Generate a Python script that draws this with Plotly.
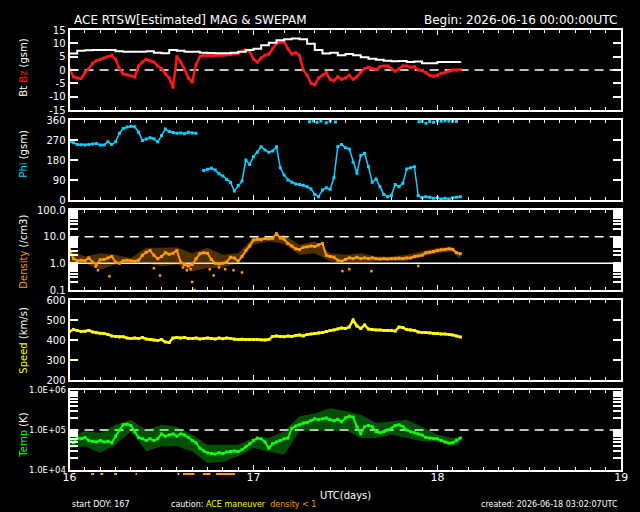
import plotly.graph_objects as go

# ---------------- data (hours after 2026-06-16 00:00 UTC) ----------------
bt_hourly = [6.2, 7.2, 7.4, 7.5, 7.5, 7.5, 7.0, 6.8, 6.8, 6.8, 7.0, 6.5, 6.3, 7.5, 7.2, 6.8, 6.8, 6.5,
             6.4, 6.3, 6.3, 6.5, 6.8, 7.5, 8.0, 9.3, 10.2, 11.2, 11.5, 11.8, 11.5, 9.8, 7.5, 6.2, 6.5,
             5.5, 6.0, 5.5, 4.8, 4.2, 3.8, 3.5, 3.3, 3.4, 3.0, 3.2, 2.5, 2.5, 3.0, 3.0, 3.0, 3.2]

bz_half = [0.5, -2.5, -3.0, -3.2, -1.0, 0.5, 2.5, 3.5, 4.0, 4.5, 5.0, 5.5, 4.0, 0.5, -1.5, -1.8, -2.2,
           -2.6, 1.5, 3.0, 4.0, 3.5, 3.0, 1.5, 0.5, -1.5, -3.0, -6.5, 5.0, 3.0, 0.3, -3.0, -4.5, 2.0,
           5.0, 5.5, 5.4, 5.3, 5.4, 5.5, 5.5, 5.6, 5.8, 6.0, 6.3,
           7.0, 7.5, 7.0, 4.0, 3.0, 4.5, 5.5, 6.0, 8.0, 10.0, 10.5, 10.5, 8.0, 6.0, 6.5, 5.5, 0.0,
           -2.0, -5.0, -5.5, -3.0, -2.0, -1.0, -3.5, -4.0, -2.5, -3.5, -3.0, -2.0, -3.5, -2.5, -1.0,
           0.5, 1.0, 0.5, 0.2, 1.2, 1.5, 1.5, 0.5, -0.5, 0.5, 1.5, 1.5, 1.0, 1.2, 0.0, -0.2, -1.0,
           -2.0, -2.3, -2.0, -1.2, -1.0, -0.5, 0.0, 0.0, 0.2]

phi_half = [262, 258, 250, 249, 248, 250, 252, 254, 248, 247, 262, 250, 262, 300, 322, 328, 332, 330,
            305, 268, 275, 280, 276, 262, 290, 320, 308, 304, 300, 302, 298, 305, 302, 300,
            None,
            133, 138, 143, 135, 118, 108, 92, 80, 40, 65, 85, 180, 160, 195, 215, 240, 225, 215, 220,
            240, 145, 112, 90, 80, 72, 70, 66, 60, 50, 25, 15, 45, 55, 48, 100, 240, 250, 235, 230,
            170, 120, 200, 210, 150, 80, 95, 60, 25, 15, 20, 70, 60, 75, 140, 145, 150, 20, 10, 15,
            12, 8, 10, 5, 8, 5, 10, 12, 15]
phi_top_hours = [31.3, 31.8, 32.3, 32.8, 33.5, 34.0, 34.7, 45.6, 46.0, 46.5, 47.0, 47.5, 48.0,
                 48.5, 49.0, 49.5, 50.0, 50.5]
phi_top_vals = [352, 357, 350, 355, 348, 356, 351, 352, 356, 345, 353, 350, 356, 354, 357, 355,
                356, 353]

dens_half = [3.3, 1.5, 1.25, 1.3, 1.25, 1.6, 1.1, 0.9, 1.35, 1.4, 1.6, 1.8, 1.1, 1.0, 1.25, 1.3, 1.25,
             1.2, 1.3, 2.0, 2.6, 3.0, 2.0, 1.5, 1.8, 2.5, 2.2, 2.4, 3.0, 1.1, 0.9, 0.8, 0.9, 1.5, 2.3,
             2.5, 2.4, 1.4, 1.0, 0.95, 1.0, 1.1, 1.7, 1.6, 1.2, 1.8, 3.0, 4.5, 7.5, 8.0, 7.8, 8.5,
             8.4, 8.8, 13.0, 9.0, 8.0, 5.5, 4.5, 3.5, 3.3, 4.0, 4.2, 4.5, 4.3, 5.0, 5.5, 2.0, 1.8,
             1.7, 1.3, 1.2, 1.4, 1.6, 1.5, 1.7, 1.5, 1.6, 1.5, 1.6, 1.5, 1.45, 1.5, 1.45, 1.5, 1.5,
             1.55, 1.5, 1.6, 1.6, 1.8, 1.9, 2.0, 2.5, 2.6, 2.8, 3.0, 3.2, 3.3, 3.5, 3.3, 2.5, 2.3]
dens_low_hours = [3.4, 3.7, 5.2, 11.0, 11.8, 14.8, 15.3, 15.8, 16.0, 16.3, 18.3, 18.8, 19.5, 20.3,
                  21.4, 22.5, 35.6, 36.5, 39.4, 45.5]
dens_low_vals = [0.75, 0.55, 0.33, 0.65, 0.35, 0.7, 0.55, 0.6, 0.2, 0.1, 0.6, 0.35, 0.7, 0.6, 0.55,
                 0.45, 0.51, 0.6, 0.51, 0.8]
dens_env_hours = [0, 2, 4, 6, 8, 10, 12, 14, 16, 18, 20, 22, 24, 26, 28, 30, 32, 34, 36, 38, 40, 42,
                  44, 46, 48, 50, 51]
dens_hi = [3.3, 1.8, 2.4, 2.1, 1.6, 3.8, 3.8, 4.0, 2.4, 3.8, 2.1, 2.4, 9.5, 9.5, 11.9, 5.0, 6.7, 2.4,
           2.1, 2.4, 1.8, 1.8, 2.1, 2.8, 3.8, 4.3, 2.1]
dens_lo = [1.0, 1.0, 0.58, 0.9, 1.0, 1.0, 0.77, 0.9, 0.5, 0.67, 0.7, 1.0, 5.0, 6.7, 5.3, 2.1, 2.4, 1.2,
           1.0, 1.0, 1.2, 1.26, 1.2, 1.8, 2.4, 2.8, 1.4]

speed_half = [443, 452, 448, 443, 444, 448, 440, 436, 434, 432, 428, 420, 418, 415, 416, 410, 408,
              410, 407, 412, 405, 402, 400, 398, 402, 390, 388, 410, 413, 410, 412, 408, 408, 410,
              405, 407, 410, 408, 405, 410, 406, 410, 408, 404, 402, 404, 403, 402, 402, 402, 401,
              400, 402, 418, 420, 418, 416, 420, 418, 422, 425, 420, 428, 430, 432, 435, 438, 442,
              447, 450, 455, 460, 458, 465, 500, 470, 458, 475, 455, 452, 450, 450, 448, 448, 447,
              445, 465, 462, 452, 450, 448, 440, 438, 437, 436, 432, 432, 430, 430, 428, 425, 420,
              415]

temp_half = [5.5e4, 4.8e4, 6.3e4, 6.0e4, 6.5e4, 5.5e4, 5.2e4, 5.0e4, 5.5e4, 5.0e4, 5.2e4, 4.8e4,
             7.0e4, 1.0e5, 1.35e5, 1.4e5, 1.3e5, 9.0e4, 6.5e4, 6.0e4, 5.5e4, 6.0e4, 5.5e4, 6.0e4,
             8.0e4, 7.0e4, 7.5e4, 8.0e4, 7.0e4, 8.0e4, 7.5e4, 6.5e4, 5.5e4, 4.8e4, 3.5e4, 3.0e4,
             2.7e4, 2.6e4, 2.5e4, 2.7e4, 2.6e4, 2.8e4, 2.9e4, 3.0e4, 2.9e4, 3.2e4, 3.8e4, 4.5e4,
             5.5e4, 6.3e4, 6.0e4, 5.0e4, 3.5e4, 4.5e4, 5.0e4, 5.5e4, 6.0e4, 6.3e4, 1.1e5, 1.25e5,
             1.35e5, 1.5e5, 1.55e5, 1.7e5, 1.9e5, 1.8e5, 1.9e5, 2.0e5, 1.8e5, 1.7e5, 1.85e5, 1.6e5,
             2.0e5, 2.2e5, 2.1e5, 1.2e5, 8.0e4, 1.2e5, 1.3e5, 1.2e5, 9.0e4, 8.5e4, 9.0e4, 1.0e5,
             1.1e5, 1.3e5, 1.35e5, 1.2e5, 1.0e5, 9.0e4, 8.5e4, 8.0e4, 7.5e4, 6.5e4, 6.3e4, 6.0e4,
             6.0e4, 5.5e4, 5.0e4, 4.7e4, 4.8e4, 5.5e4, 6.3e4]
temp_env_hours = [0, 2, 4, 6, 8, 10, 12, 14, 16, 18, 20, 22, 24, 26, 28, 30, 32, 34, 36, 38, 40, 42,
                  44, 46, 48, 50, 51]
temp_hi = [6.9e4, 9.3e4, 8.5e4, 1.35e5, 1.8e5, 1.0e5, 1.35e5, 1.2e5, 7.6e4, 4.3e4, 4.3e4, 4.3e4,
           6.3e4, 6.3e4, 9.3e4, 2.2e5, 2.6e5, 3.5e5, 3.0e5, 2.4e5, 1.5e5, 1.65e5, 1.8e5, 1.2e5,
           7.6e4, 6.3e4, 6.9e4]
temp_lo = [3.5e4, 3.9e4, 2.7e4, 4.3e4, 9.3e4, 2.9e4, 3.9e4, 3.9e4, 2.9e4, 1.5e4, 1.6e4, 2.2e4,
           3.5e4, 2.9e4, 2.4e4, 9.3e4, 1.0e5, 9.3e4, 1.0e5, 6.3e4, 6.3e4, 7.6e4, 6.3e4, 5.2e4,
           5.2e4, 3.9e4, 4.7e4]

# caution flags below the plot (start hour, end hour)
flag_density_low = [(2.8, 3.2), (4.0, 4.4), (5.8, 6.2), (8.6, 8.8), (14.8, 16.3), (17.4, 18.4),
                    (19.1, 21.6)]
flag_maneuver = [(14.1, 14.3)]

day_ticks = [16, 17, 18, 19]
START_DAY = 16

# ---------------- helpers ----------------
W, H = 640, 512
XL, XR = 64, 628
panels = [(30, 110), (120, 200), (210, 290), (300, 380), (390, 470)]
FONT = "DejaVu Sans"
WHITE = "#FFFFFF"
RED = "#FF1A1A"
CYAN = "#10D0FF"
ORANGE = "#FF9A00"
YELLOW = "#FFFF00"
GREEN = "#10FF10"


def days(hours):
    return [START_DAY + h / 24.0 for h in hours]


def half_grid(vals):
    return days([i * 0.5 for i in range(len(vals))])


def hour_grid(vals):
    return days([float(i) for i in range(len(vals))])


def py(y):
    return 1 - y / H


fig = go.Figure()


def add(x, y, i, color, mode="lines", width=2, size=3, **kw):
    fig.add_trace(go.Scatter(x=x, y=y, xaxis=f"x{i}", yaxis=f"y{i}", mode=mode,
                             line=dict(color=color, width=width),
                             marker=dict(color=color, size=size, symbol="square", line=dict(width=0)),
                             hoverinfo="skip", showlegend=False, **kw))


def band(hours, lo, hi, i, rgba):
    fig.add_trace(go.Scatter(x=days(hours), y=lo, xaxis=f"x{i}", yaxis=f"y{i}", mode="lines",
                             line=dict(width=0), hoverinfo="skip", showlegend=False))
    fig.add_trace(go.Scatter(x=days(hours), y=hi, xaxis=f"x{i}", yaxis=f"y{i}", mode="lines",
                             line=dict(width=0), fill="tonexty", fillcolor=rgba,
                             hoverinfo="skip", showlegend=False))


def hline(i, val, dash):
    add([16, 19], [val, val], i, WHITE, width=1.5, **({"line_dash": dash} if dash else {}))


# reference lines
hline(1, 0, "9px,6px")
hline(3, 10, "9px,6px")
hline(3, 1, None)
hline(5, 1e5, "9px,6px")

# panel 1: Bt and Bz
add(half_grid(bz_half), bz_half, 1, RED, mode="lines+markers", width=2.5, size=3)
add(hour_grid(bt_hourly), bt_hourly, 1, WHITE, width=2, line_shape="hv")

# panel 2: Phi
add(half_grid(phi_half), phi_half, 2, CYAN, mode="lines+markers", width=1.5, size=3)
add(days(phi_top_hours), phi_top_vals, 2, CYAN, mode="markers", size=3)

# panel 3: density
band(dens_env_hours, dens_lo, dens_hi, 3, "rgba(255,154,0,0.30)")
add(half_grid(dens_half), dens_half, 3, ORANGE, mode="lines+markers", width=2, size=3)
add(days(dens_low_hours), dens_low_vals, 3, ORANGE, mode="markers", size=2.5)

# panel 4: speed
add(half_grid(speed_half), speed_half, 4, YELLOW, mode="lines+markers", width=2.5, size=3)

# panel 5: temperature
band(temp_env_hours, temp_lo, temp_hi, 5, "rgba(20,255,20,0.30)")
add(half_grid(temp_half), temp_half, 5, GREEN, mode="lines+markers", width=2, size=3)

# ---------------- axes ----------------
minor_x = dict(dtick=1 / 12, tick0=16, ticks="inside", ticklen=3, tickcolor=WHITE, tickwidth=1)
layout = dict(width=W, height=H, margin=dict(l=0, r=0, t=0, b=0),
              paper_bgcolor="black", plot_bgcolor="black", showlegend=False,
              font=dict(family=FONT, color=WHITE, size=10))


def log_ticks(d0, d1, fmt):
    vals, text = [], []
    for d in range(d0, d1 + 1):
        for m in range(1, 10):
            if d == d1 and m > 1:
                break
            vals.append(m * 10 ** d)
            text.append(fmt(d) if m == 1 else " ")
    return vals, text


dens_tv, dens_tt = log_ticks(-1, 2, lambda d: f"{10.0 ** d:.1f}")
temp_tv, temp_tt = log_ticks(4, 6, lambda d: f"1.0E+0{d}")

yspecs = [
    dict(range=[-15, 15], tickvals=[-15, -10, -5, 0, 5, 10, 15],
         ticktext=["-15", "-10", "-5", "0", "5", "10", "15"]),
    dict(range=[0, 360], tickvals=[0, 90, 180, 270, 360],
         ticktext=["0", "90", "180", "270", "360"]),
    dict(type="log", range=[-1, 2], tickvals=dens_tv, ticktext=dens_tt),
    dict(range=[200, 600], tickvals=[200, 300, 400, 500, 600],
         ticktext=["200", "300", "400", "500", "600"]),
    dict(type="log", range=[4, 6], tickvals=temp_tv, ticktext=temp_tt,
         tickfont=dict(size=8.5, color=WHITE)),
]

for i, ((top, bot), ys) in enumerate(zip(panels, yspecs), start=1):
    sfx = "" if i == 1 else str(i)
    layout["xaxis" + sfx] = dict(domain=[XL / W, XR / W], range=[16, 19], anchor="y" + sfx,
                                 showline=True, linecolor=WHITE, linewidth=2, mirror="allticks",
                                 ticks="inside", ticklen=5, tickcolor=WHITE, tickwidth=1,
                                 tickvals=day_ticks, ticktext=[str(d) for d in day_ticks],
                                 showticklabels=(i == 5), tickfont=dict(size=11, color=WHITE),
                                 tickmode="array", ticklabelstandoff=-4,
                                 minor=minor_x, showgrid=False, zeroline=False, fixedrange=True)
    yd = dict(domain=[(H - bot) / H, (H - top) / H], anchor="x" + sfx, showline=True,
              linecolor=WHITE, linewidth=2, mirror="allticks", ticks="inside", ticklen=8,
              tickcolor=WHITE, tickwidth=1.5, showgrid=False, zeroline=False, fixedrange=True,
              tickfont=dict(size=10, color=WHITE), tickmode="array", automargin=False)
    yd.update(ys)
    layout["yaxis" + sfx] = yd

# flags under the temperature panel
shapes = []
for a, b in flag_density_low:
    shapes.append(dict(type="line", xref="x5", yref="paper", x0=START_DAY + a / 24,
                       x1=START_DAY + b / 24, y0=py(474), y1=py(474),
                       line=dict(color=ORANGE, width=2)))
for a, b in flag_maneuver:
    shapes.append(dict(type="line", xref="x5", yref="paper", x0=START_DAY + a / 24,
                       x1=START_DAY + b / 24, y0=py(474), y1=py(474),
                       line=dict(color=YELLOW, width=2)))
layout["shapes"] = shapes


def ann(text, x, y, size=10, xanchor="left", angle=0, color=WHITE):
    return dict(text=text, x=x / W, y=py(y), xref="paper", yref="paper", showarrow=False,
                xanchor=xanchor, yanchor="middle", textangle=angle,
                font=dict(family=FONT, size=size, color=color))


anns = [
    ann("ACE RTSW[Estimated] MAG &amp; SWEPAM", 66, 20, size=12),
    ann("Begin: 2026-06-16 00:00:00UTC", 626, 20, size=12, xanchor="right"),
    ann(f"Bt <span style='color:{RED}'>Bz</span> (gsm)", 16, 68, angle=-90, xanchor="center"),
    ann(f"<span style='color:{CYAN}'>Phi</span> (gsm)", 16, 154, angle=-90, xanchor="center"),
    ann(f"<span style='color:{ORANGE}'>Density</span> (/cm3)", 16, 252, angle=-90,
        xanchor="center"),
    ann(f"<span style='color:{YELLOW}'>Speed</span> (km/s)", 16, 340, angle=-90, xanchor="center"),
    ann(f"<span style='color:{GREEN}'>Temp</span> (K)", 16, 435, angle=-90, xanchor="center"),
    ann("UTC(days)", 346, 495, size=10, xanchor="center"),
    ann("start DOY: 167", 64, 504, size=8),
    ann(f"caution: <span style='color:{YELLOW}'>ACE maneuver</span>  "
        f"<span style='color:{ORANGE}'>density &lt; 1</span>", 166, 504, size=8),
    ann("created: 2026-06-18 03:02:07UTC", 627, 504, size=8, xanchor="right"),
]
layout["annotations"] = anns

fig.update_layout(**layout)
fig.write_html("out.html")
